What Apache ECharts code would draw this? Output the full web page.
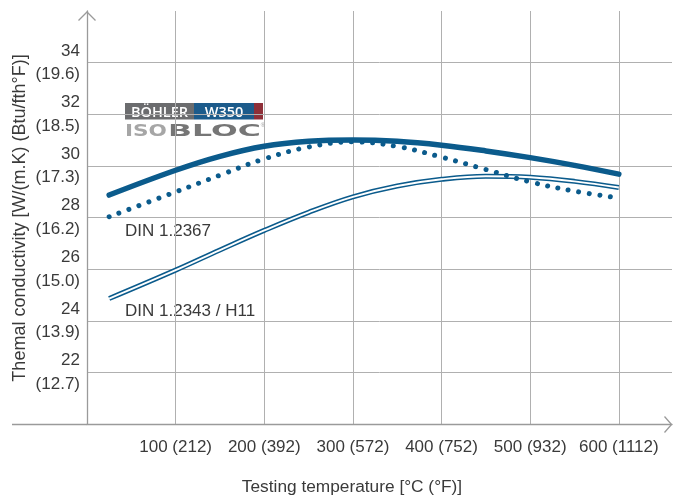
<!DOCTYPE html>
<html>
<head>
<meta charset="utf-8">
<script src="https://cdn.jsdelivr.net/npm/echarts@6/dist/echarts.min.js"></script>
<style>
  html, body { margin: 0; padding: 0; background: #ffffff; }
  #chart { width: 673px; height: 498px; }
</style>
</head>
<body>
<div id="chart"></div>
<script>
// Testing temperatures in °C
const temps = [25, 100, 150, 200, 250, 300, 350, 400, 450, 500, 550, 600];

// Thermal conductivity, W/(m.K)
const w350Isobloc = [28.87, 29.83, 30.37, 30.76, 30.95, 31.0, 30.95, 30.8, 30.58, 30.32, 30.02, 29.68];
const din12367    = [28.03, 28.99, 29.64, 30.27, 30.73, 30.93, 30.75, 30.34, 29.86, 29.38, 29.02, 28.76];
const din12343    = [24.86, 25.96, 26.74, 27.5, 28.2, 28.8, 29.22, 29.48, 29.6, 29.56, 29.4, 29.16];

// Tick labels
const xTicksC = [100, 200, 300, 400, 500, 600];
const xTicksF = ['212', '392', '572', '752', '932', '1112'];
const yTicksSI = [22, 24, 26, 28, 30, 32, 34];
const yTicksImp = ['12.7', '13.9', '15.0', '16.2', '17.3', '18.5', '19.6'];

const seriesNames = ['BÖHLER W350 ISOBLOC', 'DIN 1.2367', 'DIN 1.2343 / H11'];

const BLUE = '#0b5b8c';
const AXIS = '#9a9a9a';
const GRIDC = '#b0b0b0';
const TEXT = '#3a3a3a';
const FONT = '"Liberation Sans", Arial, sans-serif';
const SMOOTH = 0.4;

const pairs = vals => temps.map((t, i) => [t, vals[i]]);

const GRID = { left: 87, top: 11, right: 1, bottom: 74 };
const W = 673, H = 498;
const axisLeft = GRID.left, axisBottom = H - GRID.bottom;
const axisTop = GRID.top, axisRight = W - GRID.right;

const chart = echarts.init(document.getElementById('chart'), null, { renderer: 'canvas' });

const option = {
  animation: false,
  backgroundColor: '#ffffff',
  textStyle: { fontFamily: FONT },
  grid: GRID,
  xAxis: {
    type: 'value',
    min: 0, max: 660, interval: 100,
    axisLine: { show: true, lineStyle: { color: AXIS, width: 1.3 } },
    axisTick: { show: false },
    splitLine: { show: true, showMinLine: false, showMaxLine: false, lineStyle: { color: GRIDC, width: 1 } },
    axisLabel: {
      show: true, showMinLabel: false, showMaxLabel: false,
      margin: 15,
      color: TEXT, fontSize: 17, fontFamily: FONT,
      formatter: v => {
        const i = xTicksC.indexOf(v);
        return i < 0 ? '' : v + ' (' + xTicksF[i] + ')';
      }
    }
  },
  yAxis: {
    type: 'value',
    min: 20, max: 36, interval: 2,
    axisLine: { show: true, lineStyle: { color: AXIS, width: 1.3 } },
    axisTick: { show: false },
    splitLine: { show: true, showMinLine: false, showMaxLine: false, lineStyle: { color: GRIDC, width: 1 } },
    axisLabel: {
      show: true, showMinLabel: false, showMaxLabel: false,
      margin: 7,
      color: TEXT, fontSize: 17, fontFamily: FONT,
      lineHeight: 23.5, align: 'right',
      formatter: v => {
        const i = yTicksSI.indexOf(v);
        return i < 0 ? '' : v + '\n(' + yTicksImp[i] + ')';
      }
    }
  },
  series: [
    {
      name: seriesNames[0], type: 'line', data: pairs(w350Isobloc),
      smooth: SMOOTH, showSymbol: false, z: 5,
      lineStyle: { color: BLUE, width: 5.5, cap: 'round' }
    },
    {
      name: seriesNames[1], type: 'line', data: pairs(din12367),
      smooth: SMOOTH, showSymbol: false, z: 4,
      lineStyle: { color: BLUE, width: 5, type: [0.01, 10.6], cap: 'round' }
    },
    {
      name: seriesNames[2], type: 'line', data: pairs(din12343),
      smooth: SMOOTH, showSymbol: false, z: 3,
      lineStyle: { color: BLUE, width: 5 }
    },
    {
      // white core that splits the H11 curve into a double line
      name: seriesNames[2] + ' core', type: 'line', data: pairs(din12343),
      smooth: SMOOTH, showSymbol: false, z: 3, silent: true,
      lineStyle: { color: '#ffffff', width: 1.9 }
    }
  ],
  graphic: [
    // x axis extends left past the y axis
    { type: 'line', shape: { x1: 12, y1: axisBottom + 0.5, x2: axisLeft, y2: axisBottom + 0.5 },
      style: { stroke: AXIS, lineWidth: 1.3 }, z: 10 },
    // open arrow heads
    { type: 'polyline', shape: { points: [[axisLeft - 8.5, axisTop + 9.5], [axisLeft, axisTop + 1], [axisLeft + 8.5, axisTop + 9.5]] },
      style: { stroke: AXIS, lineWidth: 1.3, fill: null }, z: 10 },
    { type: 'polyline', shape: { points: [[axisRight - 7.5, axisBottom - 7.5], [axisRight - 0.5, axisBottom + 0.5], [axisRight - 7.5, axisBottom + 8.5]] },
      style: { stroke: AXIS, lineWidth: 1.3, fill: null }, z: 10 },
    // axis titles
    { type: 'text', x: 20, y: 218, rotation: Math.PI / 2,
      style: { text: 'Themal conductivity [W/(m.K) (Btu/fth°F)]', fill: TEXT, font: '18px ' + FONT,
               align: 'center', verticalAlign: 'middle' } },
    { type: 'text', x: 352, y: 487,
      style: { text: 'Testing temperature [°C (°F)]', fill: TEXT, font: '17.3px ' + FONT,
               align: 'center', verticalAlign: 'middle' } },
    // curve labels
    { type: 'text', x: 125, y: 231,
      style: { text: seriesNames[1], fill: TEXT, font: '17px ' + FONT, align: 'left', verticalAlign: 'middle' } },
    { type: 'text', x: 125, y: 311,
      style: { text: seriesNames[2], fill: TEXT, font: '17px ' + FONT, align: 'left', verticalAlign: 'middle' } },
    // BÖHLER W350 ISOBLOC mark
    { type: 'group', x: 125, y: 103, z: 20, children: [
      { type: 'rect', shape: { x: 0, y: 0, width: 69, height: 16.5 }, style: { fill: '#6b6c6e' } },
      { type: 'rect', shape: { x: 69, y: 0, width: 60, height: 16.5 }, style: { fill: '#1c5b8b' } },
      { type: 'rect', shape: { x: 129, y: 0, width: 9, height: 16.5 }, style: { fill: '#8e2f38' } },
      { type: 'text', x: 34.5, y: 9.5, style: { text: 'BÖHLER', fill: '#ffffff', font: '600 14.5px "Open Sans", ' + FONT, align: 'center', verticalAlign: 'middle' } },
      { type: 'text', x: 99, y: 9.5, style: { text: 'W350', fill: '#ffffff', font: '600 14.5px "Open Sans", ' + FONT, align: 'center', verticalAlign: 'middle' } },
      { type: 'text', x: 0, y: 29, scaleX: 1.35, scaleY: 1,
        style: { text: 'ISO', fill: '#a6a6a6', font: 'bold 16px "DejaVu Sans", sans-serif', align: 'left', verticalAlign: 'middle' } },
      { type: 'text', x: 43, y: 29, scaleX: 1.97, scaleY: 1,
        style: { text: 'BLOC', fill: '#767676', font: 'bold 16px "DejaVu Sans", sans-serif', align: 'left', verticalAlign: 'middle' } },
      { type: 'text', x: 138, y: 22, style: { text: '®', fill: '#9a9a9a', font: '6px sans-serif', align: 'center', verticalAlign: 'middle' } }
    ] }
  ]
};

chart.setOption(option);
</script>
</body>
</html>
